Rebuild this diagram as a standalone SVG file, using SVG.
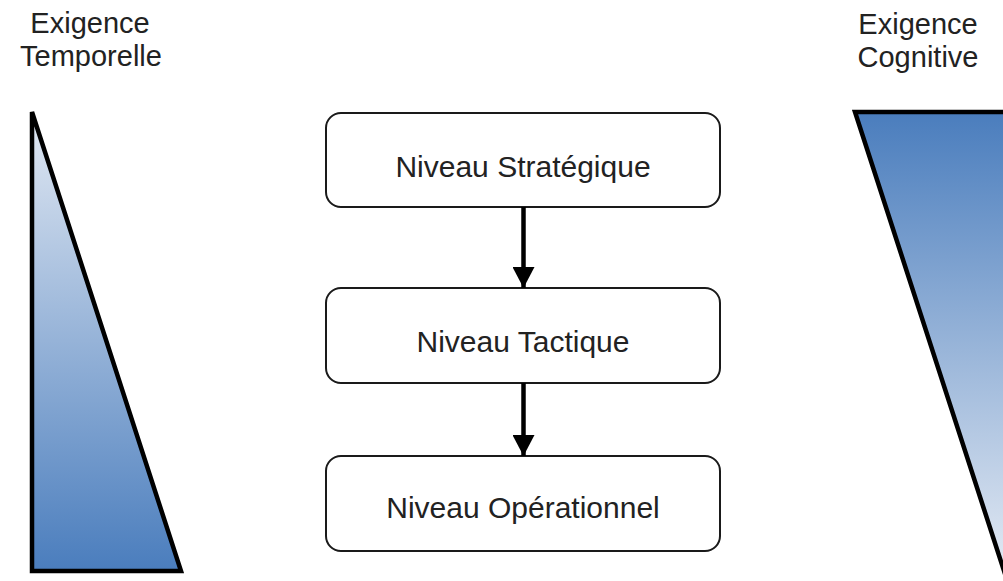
<svg xmlns="http://www.w3.org/2000/svg" width="1003" height="581" viewBox="0 0 1003 581">
  <style>
    .label { font-family: "Liberation Sans", Arial, sans-serif; font-size: 29px; fill: #222; text-anchor: middle; }
    .node-text { font-family: "Liberation Sans", Arial, sans-serif; font-size: 30px; fill: #222; text-anchor: middle; }
    .node-box { fill: #ffffff; stroke: #1a1a1a; stroke-width: 2; }
    .gauge { stroke: #000; stroke-width: 4.5; stroke-linejoin: miter; }
    .link { stroke: #000; stroke-width: 4.5; fill: none; }
  </style>
  <defs>
    <linearGradient id="gradUp" gradientUnits="userSpaceOnUse" x1="0" y1="110" x2="0" y2="571">
      <stop offset="0" stop-color="#e2e9f3"/>
      <stop offset="1" stop-color="#4a7dbd"/>
    </linearGradient>
    <linearGradient id="gradDown" gradientUnits="userSpaceOnUse" x1="0" y1="112" x2="0" y2="570">
      <stop offset="0" stop-color="#4a7dbd"/>
      <stop offset="1" stop-color="#e2e9f3"/>
    </linearGradient>
    <marker id="arrowhead" markerUnits="userSpaceOnUse" markerWidth="22" markerHeight="22" refX="21" refY="11" orient="auto">
      <path d="M0,0 L21,11 L0,22 Z" fill="#000"/>
    </marker>
  </defs>

  <!-- Left gauge: time demand -->
  <g id="exigence-temporelle">
    <text class="label" x="90" y="33">Exigence</text>
    <text class="label" x="91" y="66">Temporelle</text>
    <polygon class="gauge" points="32,112 32,571 181,571" fill="url(#gradUp)"/>
  </g>

  <!-- Right gauge: cognitive demand -->
  <g id="exigence-cognitive">
    <text class="label" x="918" y="34">Exigence</text>
    <text class="label" x="918" y="67">Cognitive</text>
    <polygon class="gauge" points="855,112 1030,112 1030,620 1020,620" fill="url(#gradDown)"/>
  </g>

  <!-- Levels -->
  <g id="niveau-strategique">
    <rect class="node-box" x="326" y="113" width="394" height="94" rx="15" ry="15"/>
    <text class="node-text" x="523" y="177">Niveau Stratégique</text>
  </g>
  <g id="niveau-tactique">
    <rect class="node-box" x="326" y="288" width="394" height="95" rx="15" ry="15"/>
    <text class="node-text" x="523" y="352">Niveau Tactique</text>
  </g>
  <g id="niveau-operationnel">
    <rect class="node-box" x="326" y="456" width="394" height="95" rx="15" ry="15"/>
    <text class="node-text" x="523" y="518">Niveau Opérationnel</text>
  </g>

  <!-- Connectors -->
  <g id="connectors">
    <line class="link" x1="523.5" y1="207" x2="523.5" y2="288" marker-end="url(#arrowhead)"/>
    <line class="link" x1="523.5" y1="383" x2="523.5" y2="456" marker-end="url(#arrowhead)"/>
  </g>
</svg>
